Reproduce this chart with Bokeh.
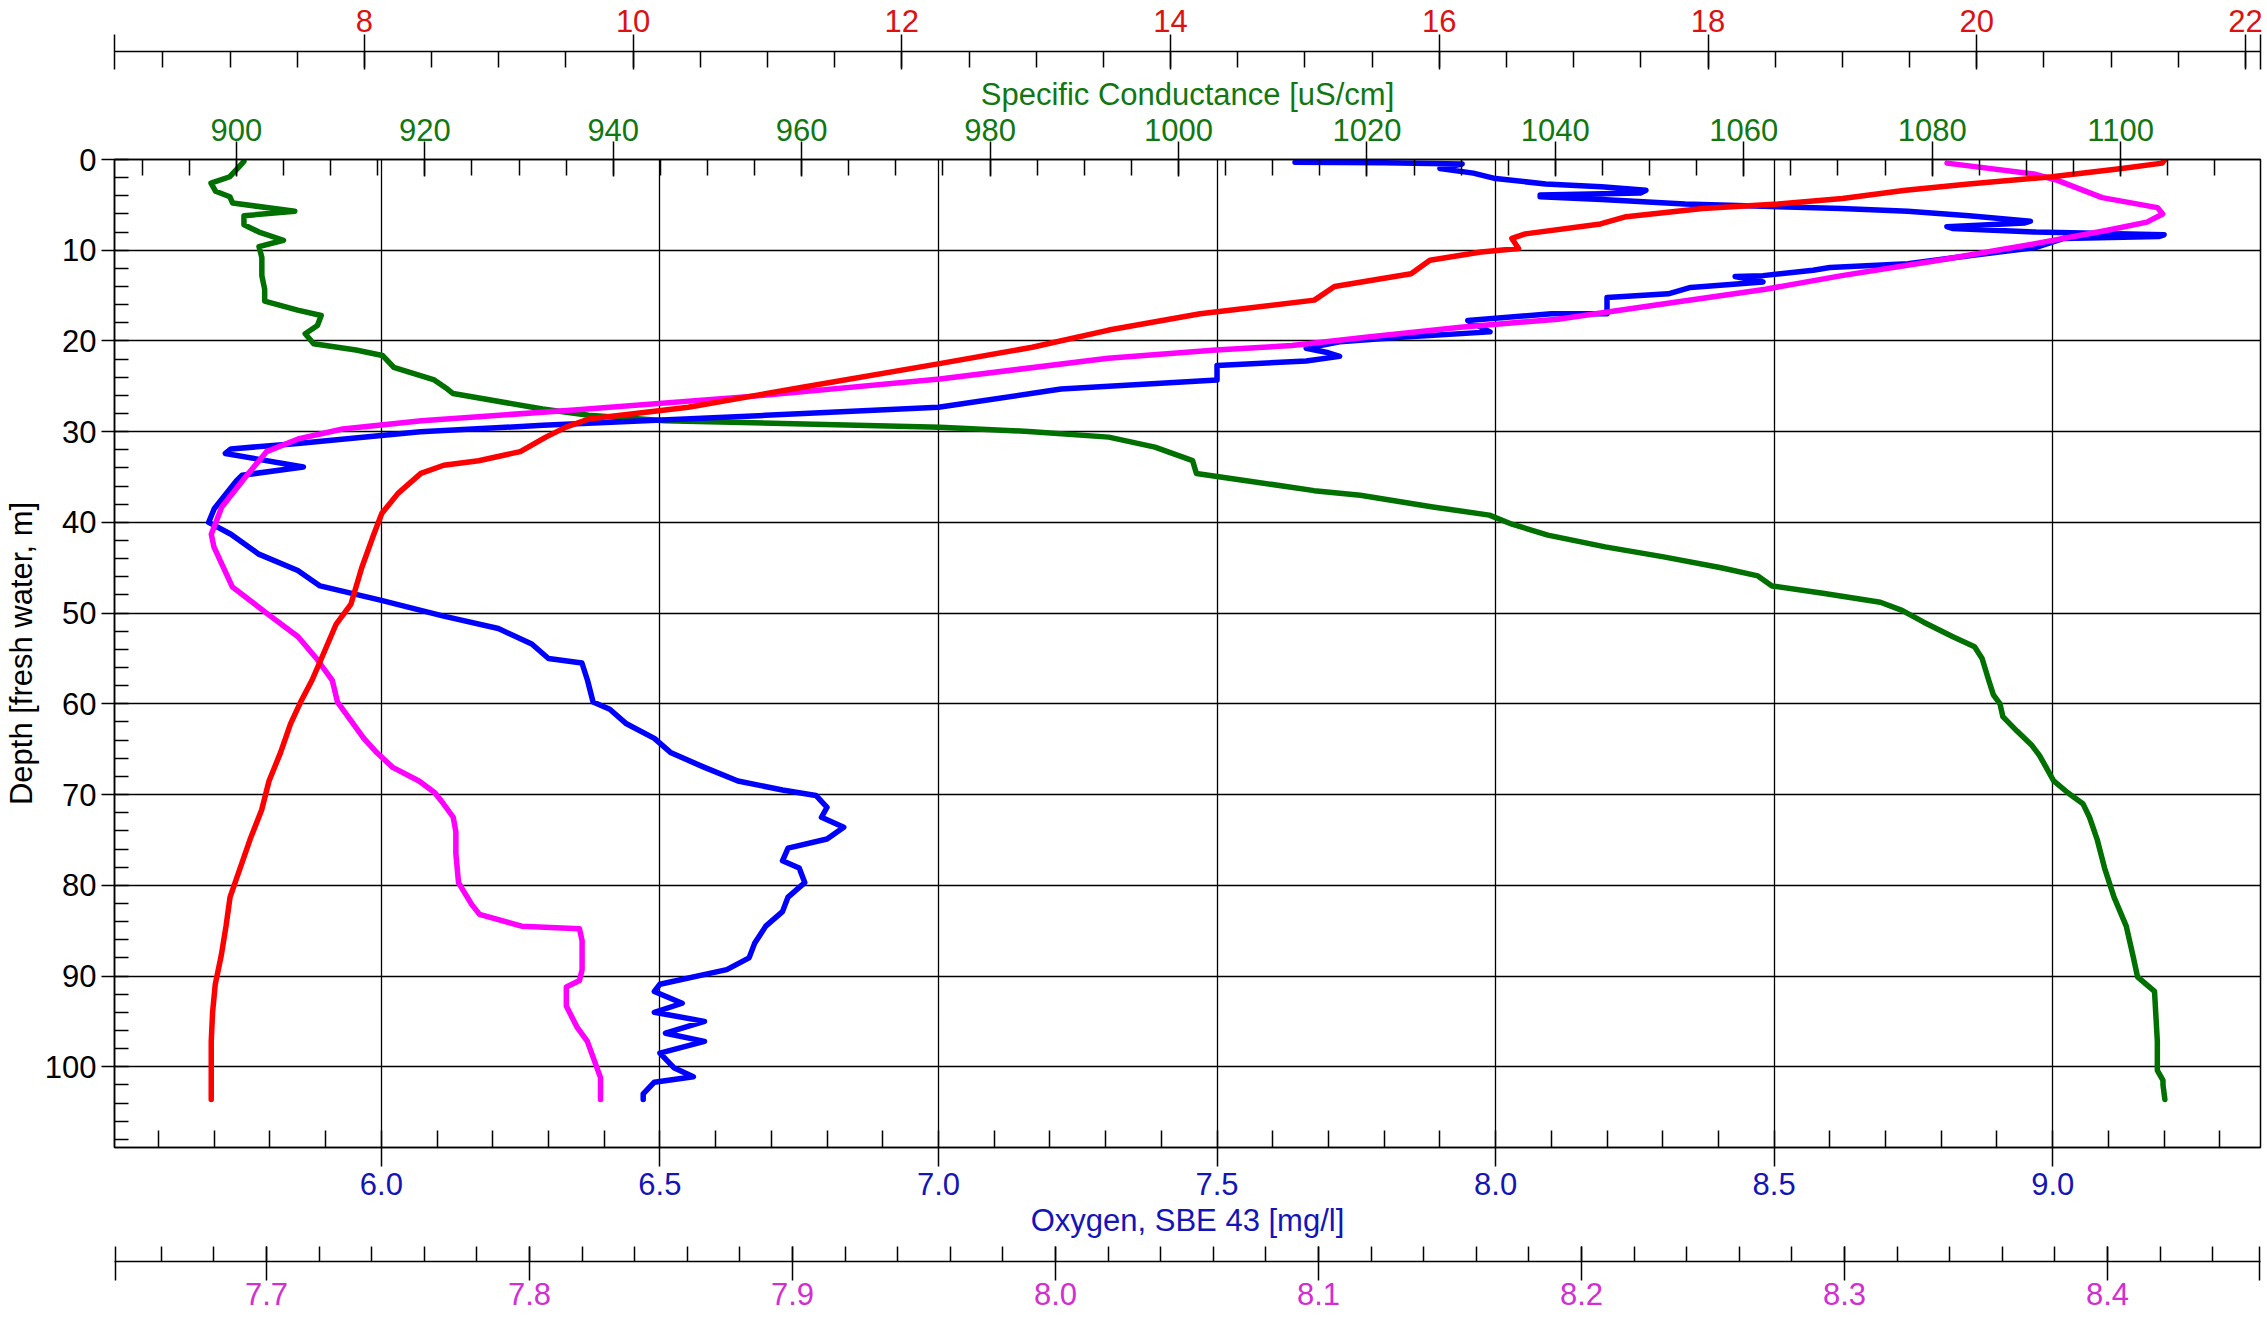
import numpy as np
from bokeh.plotting import figure
from bokeh.models import Range1d, LinearAxis, FixedTicker, PrintfTickFormatter
from bokeh.embed import file_html
from bokeh.resources import INLINE

# ---------------- data ----------------
depth_o2 = [0.3, 0.35, 0.5, 1.0, 1.5, 2.1, 2.7, 3.0, 3.4, 3.7,
            3.9, 4.1, 4.4, 4.9, 5.1, 5.4, 5.7, 6.2, 6.8, 7.0,
            7.4, 7.6, 8.0, 8.3, 8.5, 8.7, 9.7, 10.6, 11.5, 11.9,
            12.2, 12.8, 12.9, 13.5, 14.1, 14.8, 15.2, 17.0, 17.0, 17.75,
            19.0, 19.6, 20.1, 20.8, 21.3, 21.7, 22.2, 22.7, 24.3, 25.3,
            27.3, 28.2, 29.3, 30.0, 31.3, 31.9, 32.4, 33.9, 34.8, 35.4,
            38.5, 40.0, 41.3, 43.5, 45.3, 47.0, 48.6, 50.3, 51.7, 53.4,
            55.0, 55.5, 57.4, 59.8, 60.6, 62.2, 63.8, 65.4, 67.0, 68.5,
            69.5, 70.1, 71.4, 72.5, 73.6, 74.9, 75.9, 77.3, 78.1, 79.7,
            81.3, 82.9, 84.5, 86.4, 88.0, 89.3, 90.9, 91.7, 93.0, 94.0,
            95.0, 96.3, 97.2, 98.5, 100.1, 101.1, 101.7, 103.0, 103.6]
oxygen = [7.64, 7.80, 7.94, 7.90, 7.96, 8.00, 8.09, 8.19, 8.27, 8.26,
          8.08, 8.08, 8.19, 8.34, 8.45, 8.62, 8.74, 8.85, 8.96, 8.95,
          8.81, 8.82, 8.97, 9.20, 9.19, 9.02, 8.97, 8.85, 8.74, 8.60,
          8.57, 8.48, 8.43, 8.48, 8.35, 8.31, 8.20, 8.20, 8.10, 7.95,
          7.99, 7.83, 7.72, 7.66, 7.70, 7.72, 7.66, 7.50, 7.50, 7.22,
          7.00, 6.69, 6.29, 6.07, 5.85, 5.73, 5.72, 5.86, 5.75, 5.74,
          5.70, 5.69, 5.73, 5.78, 5.85, 5.89, 6.00, 6.11, 6.21, 6.27,
          6.30, 6.36, 6.37, 6.38, 6.41, 6.44, 6.49, 6.52, 6.58, 6.64,
          6.72, 6.78, 6.80, 6.79, 6.83, 6.80, 6.73, 6.72, 6.75, 6.76,
          6.73, 6.72, 6.69, 6.67, 6.66, 6.62, 6.50, 6.49, 6.54, 6.49,
          6.58, 6.51, 6.58, 6.50, 6.525, 6.56, 6.49, 6.47, 6.47]

depth_cond = [0.2, 1.0, 1.9, 2.6, 3.5, 4.1, 4.8, 5.7, 6.2, 7.2,
              8.0, 8.9, 9.6, 10.8, 12.8, 14.3, 15.6, 16.6, 17.2, 18.3,
              19.2, 20.3, 21.0, 21.6, 22.9, 24.3, 25.3, 25.8, 27.5, 28.2,
              28.8, 29.5, 30.0, 30.6, 31.7, 33.2, 34.6, 35.4, 36.5, 37.0,
              38.3, 39.2, 40.2, 41.4, 42.7, 43.8, 45.0, 45.9, 47.0, 47.8,
              48.8, 49.7, 51.0, 52.6, 53.7, 55.0, 57.4, 59.0, 60.0, 61.4,
              63.0, 64.6, 65.7, 67.0, 68.5, 69.8, 71.0, 72.5, 74.9, 78.1,
              81.3, 84.5, 87.7, 90.1, 91.7, 97.2, 100.4, 101.5, 102.0, 103.6]
conductance = [900.8, 900.1, 899.3, 897.3, 897.8, 899.3, 899.6, 906.2, 900.8, 900.8,
               902.4, 905.0, 902.4, 902.7, 902.7, 903.0, 903.0, 906.5, 909.0, 908.6,
               907.3, 908.2, 912.7, 915.5, 916.7, 921.0, 922.4, 923.0, 932.5, 937.4,
               945.5, 974.7, 984.5, 992.6, 997.5, 1001.5, 1001.9, 1007.2, 1014.4, 1019.3,
               1027.0, 1033.0, 1035.4, 1039.2, 1045.3, 1051.5, 1057.6, 1061.5, 1063.0, 1068.4,
               1074.5, 1076.8, 1079.1, 1082.2, 1084.5, 1085.3, 1086.0, 1086.5, 1087.2, 1087.5,
               1089.0, 1090.6, 1091.4, 1092.1, 1092.9, 1094.4, 1096.0, 1096.7, 1097.5, 1098.3,
               1099.3, 1100.6, 1101.3, 1101.8, 1103.6, 1103.9, 1103.9, 1104.5, 1104.5, 1104.7]

depth_temp = [0.0, 0.4, 1.0, 1.9, 2.7, 3.4, 4.3, 4.9, 5.4, 6.3,
              7.1, 8.2, 8.7, 9.8, 10.2, 11.1, 12.6, 14.0, 15.5, 17.0,
              18.8, 20.7, 22.5, 25.1, 27.3, 28.6, 29.5, 30.6, 32.2, 33.2,
              33.7, 34.6, 36.8, 39.0, 41.3, 45.0, 49.0, 51.2, 55.0, 57.4,
              59.8, 62.2, 65.4, 68.5, 71.7, 74.9, 78.1, 81.3, 84.5, 87.7,
              90.9, 94.0, 97.2, 101.2, 103.6]
temperature = [21.40, 21.38, 21.08, 20.56, 19.94, 19.47, 19.00, 18.52, 17.96, 17.39,
               17.20, 16.64, 16.54, 16.59, 16.31, 15.93, 15.79, 15.22, 15.07, 14.22,
               13.54, 12.97, 12.28, 11.26, 10.41, 9.67, 9.50, 9.35, 9.16, 8.85,
               8.59, 8.42, 8.25, 8.13, 8.07, 7.98, 7.90, 7.79, 7.68, 7.61,
               7.525, 7.45, 7.375, 7.29, 7.235, 7.15, 7.075, 7.00, 6.97, 6.935,
               6.89, 6.87, 6.86, 6.86, 6.86]

depth_ph = [0.4, 1.6, 2.3, 4.2, 5.3, 6.0, 6.9, 7.8, 9.3, 11.1,
            12.8, 14.3, 16.1, 17.6, 18.5, 19.6, 20.5, 21.0, 21.9, 24.2,
            26.0, 27.6, 28.8, 29.7, 30.8, 32.2, 35.0, 38.3, 41.3, 42.7,
            47.1, 50.0, 52.6, 55.0, 57.4, 59.8, 61.4, 63.8, 65.4, 67.0,
            68.5, 69.8, 70.9, 72.5, 74.1, 76.5, 79.7, 82.1, 83.2, 84.5,
            84.8, 86.1, 89.3, 90.5, 91.2, 93.3, 95.6, 97.2, 99.6, 101.2,
            103.6]
ph = [8.339, 8.372, 8.381, 8.398, 8.419, 8.421, 8.415, 8.400, 8.372, 8.336,
      8.299, 8.270, 8.227, 8.191, 8.154, 8.118, 8.090, 8.061, 8.020, 7.956,
      7.889, 7.817, 7.759, 7.729, 7.712, 7.700, 7.692, 7.683, 7.679, 7.680,
      7.687, 7.700, 7.712, 7.719, 7.725, 7.727, 7.731, 7.737, 7.742, 7.748,
      7.758, 7.764, 7.767, 7.771, 7.772, 7.772, 7.773, 7.778, 7.781, 7.797,
      7.819, 7.820, 7.820, 7.819, 7.814, 7.814, 7.818, 7.822, 7.825, 7.827,
      7.827]

# axis ticks
depth_ticks = list(range(0, 101, 10))
oxygen_ticks = [6.0, 6.5, 7.0, 7.5, 8.0, 8.5, 9.0]
cond_ticks = list(range(900, 1101, 20))
temp_ticks = list(range(8, 23, 2))
ph_ticks = [7.7, 7.8, 7.9, 8.0, 8.1, 8.2, 8.3, 8.4]

# axis extents
o2_lo, o2_hi = 5.521, 9.373
depth_lo, depth_hi = 0.0, 108.9
cond_lo, cond_hi = 887.06, 1114.85
temp_lo, temp_hi = 6.14, 22.112
ph_lo, ph_hi = 7.6422, 8.4582

# ---------------- styling ----------------
FONT = "Liberation Sans"
FS = "31px"
RED_T, GREEN_T, BLUE_T, MAG_T = "#dd1111", "#117711", "#1414b8", "#d22ed2"
RED_L, GREEN_L, BLUE_L, MAG_L = "#ff0000", "#007000", "#0000ff", "#ff00ff"

p = figure(width=2267, height=1319, output_backend="svg", toolbar_location=None,
           title=None, x_range=Range1d(o2_lo, o2_hi), y_range=Range1d(depth_hi, depth_lo),
           min_border_left=113, min_border_right=7, min_border_top=159,
           min_border_bottom=172)
p.extra_x_ranges = {"cond": Range1d(cond_lo, cond_hi),
                    "temp": Range1d(temp_lo, temp_hi),
                    "ph": Range1d(ph_lo, ph_hi)}
p.background_fill_color = "white"
p.border_fill_color = "white"
p.outline_line_color = "black"
p.outline_line_width = 1.5


def frange(a, b, step):
    n = int(round((b - a) / step))
    return [round(a + i * step, 4) for i in range(n + 1)]


def style(ax, color, maj_in, maj_out, min_in, min_out, lab_stand, title=None,
          title_stand=0):
    ax.axis_line_color = "black"
    ax.axis_line_width = 1.5
    ax.major_tick_line_color = "black"
    ax.major_tick_line_width = 1.5
    ax.minor_tick_line_color = "black"
    ax.minor_tick_line_width = 1.5
    ax.major_tick_in = maj_in
    ax.major_tick_out = maj_out
    ax.minor_tick_in = min_in
    ax.minor_tick_out = min_out
    ax.major_label_standoff = lab_stand
    ax.major_label_text_font = FONT
    ax.major_label_text_font_size = FS
    ax.major_label_text_color = color
    if title is not None:
        ax.axis_label = title
        ax.axis_label_text_font = FONT
        ax.axis_label_text_font_size = FS
        ax.axis_label_text_font_style = "normal"
        ax.axis_label_text_color = color
        ax.axis_label_standoff = title_stand


def spacer(rng, size):
    # an empty axis whose (blank) label standoff opens a gap between stacked axes
    ax = LinearAxis(x_range_name=rng, ticker=FixedTicker(ticks=[]))
    ax.axis_line_color = None
    ax.major_tick_line_color = None
    ax.minor_tick_line_color = None
    ax.major_tick_out = 0
    ax.major_tick_in = 0
    ax.minor_tick_out = 0
    ax.minor_tick_in = 0
    ax.major_label_standoff = 0
    ax.major_label_text_font_size = "0px"
    ax.axis_label = " "
    ax.axis_label_text_font_size = "1px"
    ax.axis_label_standoff = size
    return ax


# oxygen axis (bottom, next to frame)
ox_ax = p.xaxis[0]
ox_ax.ticker = FixedTicker(ticks=oxygen_ticks, minor_ticks=frange(5.6, 9.3, 0.1))
ox_ax.formatter = PrintfTickFormatter(format="%.1f")
style(ox_ax, BLUE_T, 0, 19, 17, 0, 6, "Oxygen, SBE 43 [mg/l]", 5)

# depth axis (left)
d_ax = p.yaxis[0]
d_ax.ticker = FixedTicker(ticks=depth_ticks, minor_ticks=list(range(0, 109, 2)))
d_ax.formatter = PrintfTickFormatter(format="%d")
style(d_ax, "black", 0, 13, 14, 0, 5, "Depth [fresh water, m]", 3)

# conductance axis (top, next to frame)
c_ax = LinearAxis(x_range_name="cond",
                  ticker=FixedTicker(ticks=cond_ticks, minor_ticks=list(range(890, 1115, 5))),
                  formatter=PrintfTickFormatter(format="%d"))
style(c_ax, GREEN_T, 17, 18, 16, 0, 1, "Specific Conductance [uS/cm]", 4)
p.add_layout(c_ax, "above")
p.add_layout(spacer("cond", 18), "above")

# temperature axis (top, detached) -- end caps drawn as unlabeled ticks
temp_caps = [round(temp_lo + 0.002, 3), round(temp_hi - 0.002, 3)]
t_ax = LinearAxis(x_range_name="temp",
                  ticker=FixedTicker(ticks=temp_ticks + temp_caps,
                                     minor_ticks=frange(6.5, 22.0, 0.5)),
                  formatter=PrintfTickFormatter(format="%d"))
t_ax.major_label_overrides = {v: "" for v in temp_caps}
style(t_ax, RED_T, 18, 17, 16, 0, 3)
p.add_layout(t_ax, "above")

# pH axis (bottom, detached) -- end caps drawn as unlabeled ticks
ph_caps = [round(ph_lo + 0.0002, 4), round(ph_hi - 0.0002, 4)]
p.add_layout(spacer("ph", 17), "below")
ph_ax = LinearAxis(x_range_name="ph",
                   ticker=FixedTicker(ticks=ph_ticks + ph_caps,
                                      minor_ticks=frange(7.66, 8.44, 0.02)),
                   formatter=PrintfTickFormatter(format="%.1f"))
ph_ax.major_label_overrides = {v: "" for v in ph_caps}
style(ph_ax, MAG_T, 15, 19, 15, 0, 2)
p.add_layout(ph_ax, "below")

# grid
p.xgrid.grid_line_color = "black"
p.xgrid.grid_line_width = 1.3
p.ygrid.grid_line_color = "black"
p.ygrid.grid_line_width = 1.3

# ---------------- profiles ----------------
LW = 5.5
p.line(conductance, depth_cond, x_range_name="cond", line_color=GREEN_L,
       line_width=LW, line_join="round", line_cap="round")
p.line(oxygen, depth_o2, line_color=BLUE_L, line_width=LW,
       line_join="round", line_cap="round")
p.line(ph, depth_ph, x_range_name="ph", line_color=MAG_L, line_width=LW,
       line_join="round", line_cap="round")
p.line(temperature, depth_temp, x_range_name="temp", line_color=RED_L,
       line_width=LW, line_join="round", line_cap="round")

open("out.html", "w").write(file_html(p, INLINE))
